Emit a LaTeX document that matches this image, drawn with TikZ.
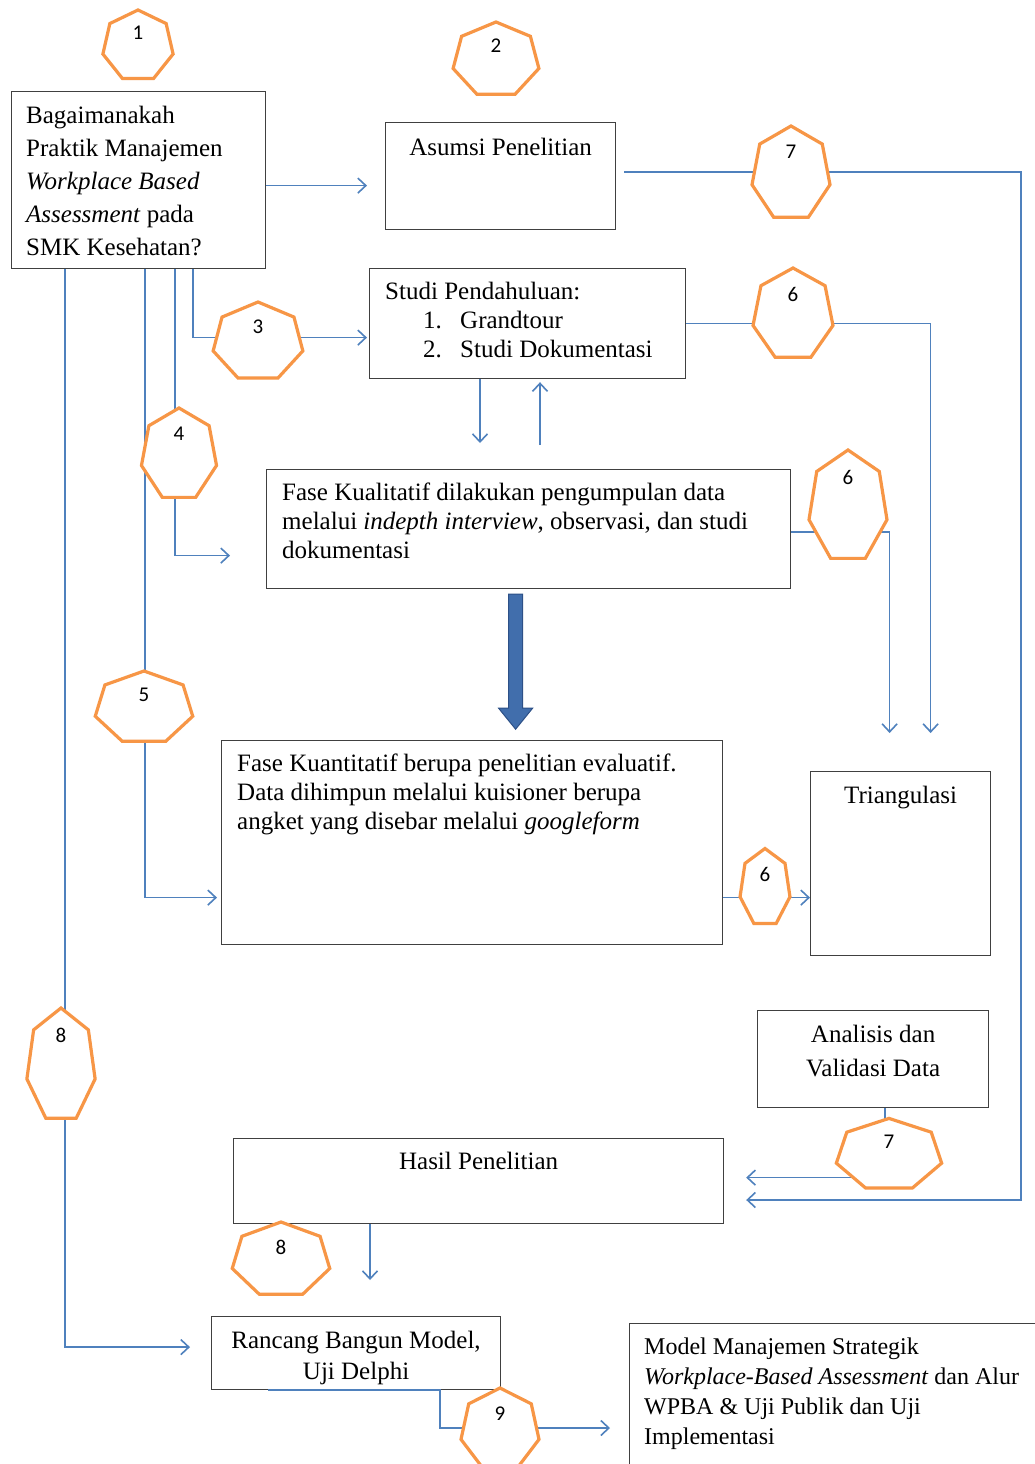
\documentclass[tikz,border=0pt]{standalone}
\usepackage{fontspec}
\setmainfont{Liberation Serif}
\newfontfamily\angkafont{Carlito}
\usetikzlibrary{positioning}
\usetikzlibrary{arrows.meta}
\definecolor{garis}{RGB}{79,129,189}
\definecolor{jingga}{RGB}{247,150,70}
\definecolor{kotak}{RGB}{64,64,64}
\definecolor{panahbiru}{RGB}{65,110,172}
\definecolor{panahtepi}{RGB}{45,80,135}
\newcommand{\heptcell}{\draw[hept] (-90:1) -- (-38.57:1) -- (12.86:1) -- (64.29:1) -- (115.71:1) -- (167.14:1) -- (218.57:1) -- cycle;}
\tikzset{
	kotakbox/.style={draw=kotak, line width=1.2pt, inner sep=0pt, anchor=north west},
	teks/.style={inner sep=0pt, align=left, font=\fontsize{25}{29}\selectfont},
	panah/.style={draw=garis, line width=1.6pt, -{Straight Barb[length=8pt,width=15pt]}},
	hept/.style={draw=jingga, line width=3.2pt, fill=white},
	hnum/.style={inner sep=0pt, font=\angkafont\fontsize{21}{21}\selectfont},
	fat/.style={fill=panahbiru, draw=panahtepi, line width=1pt}
}

\begin{document}
\begin{tikzpicture}[x=1pt, y=-1pt]

					\path[use as bounding box, fill=white] (0,0) rectangle (1035,1464);

					\node[kotakbox, minimum width=254pt, minimum height=177pt] (tanya) at (11,91) {};
					\node[kotakbox, minimum width=230pt, minimum height=107pt] (asumsi) at (385,122) {};
					\node[kotakbox, minimum width=316pt, minimum height=110pt] (studi) at (369,268) {};
					\node[kotakbox, minimum width=524pt, minimum height=119pt] (kuali) at (266,469) {};
					\node[kotakbox, minimum width=501pt, minimum height=204pt] (kuanti) at (221,740) {};
					\node[kotakbox, minimum width=180pt, minimum height=184pt] (triang) at (810,771) {};
					\node[kotakbox, minimum width=231pt, minimum height=97pt] (analisis) at (757,1010) {};
					\node[kotakbox, minimum width=490pt, minimum height=85pt] (hasil) at (233,1138) {};
					\node[kotakbox, minimum width=289pt, minimum height=73pt] (rancang) at (211,1316) {};
					\node[kotakbox, minimum width=420pt, minimum height=160pt] (model) at (629,1323) {};

					\node[teks, font=\fontsize{25}{33}\selectfont, below right=15pt and 15pt of tanya.north west] (tanya-t) {Bagaimanakah\\Praktik Manajemen\\\textit{Workplace Based}\\\textit{Assessment} pada\\SMK Kesehatan?};
					\node[teks, below=16pt of asumsi.north] (asumsi-t) {Asumsi Penelitian};
					\node[teks, below right=14pt and 16pt of studi.north west] (studi-t) {Studi Pendahuluan:\\\hspace*{38pt}\makebox[37pt][l]{1.}Grandtour\\\hspace*{38pt}\makebox[37pt][l]{2.}Studi Dokumentasi};
					\node[teks, below right=14pt and 16pt of kuali.north west] (kuali-t) {Fase Kualitatif dilakukan pengumpulan data\\melalui \textit{indepth interview}, observasi, dan studi\\dokumentasi};
					\node[teks, below right=14pt and 16pt of kuanti.north west] (kuanti-t) {Fase Kuantitatif berupa penelitian evaluatif.\\Data dihimpun melalui kuisioner berupa\\angket yang disebar melalui \textit{googleform}};
					\node[teks, below=15pt of triang.north] (triang-t) {Triangulasi};
					\node[teks, align=center, font=\fontsize{25}{34}\selectfont, below=15pt of analisis.north] (analisis-t) {Analisis dan\\Validasi Data};
					\node[teks, below=14pt of hasil.north] (hasil-t) {Hasil Penelitian};
					\node[teks, align=center, font=\fontsize{25}{31}\selectfont, below=15pt of rancang.north] (rancang-t) {Rancang Bangun Model,\\Uji Delphi};
					\node[teks, font=\fontsize{24}{30}\selectfont, below right=15pt and 15pt of model.north west] (model-t) {Model Manajemen Strategik\\\textit{Workplace-Based Assessment} dan Alur\\WPBA \& Uji Publik dan Uji\\Implementasi};

					\coordinate (pojok) at (1021,1200);

					\draw[panah, shorten >=18pt] ([yshift=-5.5]tanya.east) -- ([yshift=-5.5]tanya.east -| asumsi.west);
					\draw[panah, shorten >=2pt] ([xshift=182]tanya.south west) |- ([yshift=-14]studi.west);
					\draw[panah, shorten >=36pt] ([xshift=164]tanya.south west) |- ([yshift=-26.5]kuali.west);
					\draw[panah, shorten >=4pt] ([xshift=134]tanya.south west) |- ([yshift=-55]kuanti.west);
					\draw[panah, shorten >=21pt] ([xshift=54]tanya.south west) |- ([yshift=6]rancang.west);
					\draw[panah, shorten >=22pt] ([xshift=8,yshift=4]asumsi.east) -| (pojok) -- (pojok -| hasil.east);
					\draw[panah, shorten >=38pt] (studi.east) -| ([xshift=30]triang.north);
					\draw[panah, shorten >=38pt] ([yshift=-3]kuali.east) -| ([xshift=-11]triang.north);
					\draw[panah] ([yshift=-55]kuanti.east) -- ([yshift=-55]kuanti.east -| triang.west);
					\draw[panah, shorten >=26pt] ([xshift=111]studi.south west) -- ([xshift=111]studi.south west |- kuali.north);
					\draw[panah, shorten <=24pt, shorten >=3pt] ([xshift=274]kuali.north west) -- ([xshift=274]kuali.north west |- studi.south);
					\draw[panah, shorten >=36pt] ([xshift=137]hasil.south west) -- ([xshift=137]hasil.south west |- rancang.north);
					\draw[panah, shorten >=22pt] ([xshift=128]analisis.south west) |- ([yshift=3.5]hasil.east);
					\draw[panah, shorten >=19pt] ([xshift=57]rancang.south west) -- ([xshift=229]rancang.south west) |- ([yshift=-105]model.north west);

					\draw[fat] ([xshift=-20,yshift=-5]kuali.south) -- ++(14,0) -- ++(0,114) -- ++(10,0) -- ++(-17,21) -- ++(-17,-21) -- ++(10,0) -- cycle;

					\begin{scope}[shift={(138,46)}, xscale=36, yscale=36]
						\heptcell
					\end{scope}
					\node[hnum] (n1) at (138,33) {1};

					\begin{scope}[shift={(496,60)}, xscale=44, yscale=38]
						\heptcell
					\end{scope}
					\node[hnum] (n2) at (496,46) {2};

					\begin{scope}[shift={(791,174)}, xscale=40, yscale=48]
						\heptcell
					\end{scope}
					\node[hnum] (n7a) at (791,152) {7};

					\begin{scope}[shift={(793,315)}, xscale=41, yscale=47]
						\heptcell
					\end{scope}
					\node[hnum] (n6a) at (793,294) {6};

					\begin{scope}[shift={(258,342)}, xscale=46, yscale=40]
						\heptcell
					\end{scope}
					\node[hnum] (n3) at (258,327) {3};

					\begin{scope}[shift={(179,455)}, xscale=38.5, yscale=47]
						\heptcell
					\end{scope}
					\node[hnum] (n4) at (179,434) {4};

					\begin{scope}[shift={(848,507)}, xscale=40, yscale=57]
						\heptcell
					\end{scope}
					\node[hnum] (n6b) at (848,477) {6};

					\begin{scope}[shift={(144,708)}, xscale=50, yscale=37]
						\heptcell
					\end{scope}
					\node[hnum] (n5) at (144,695) {5};

					\begin{scope}[shift={(765,888)}, xscale=25.6, yscale=39.5]
						\heptcell
					\end{scope}
					\node[hnum] (n6c) at (765,874) {6};

					\begin{scope}[shift={(61,1066)}, xscale=35, yscale=58]
						\heptcell
					\end{scope}
					\node[hnum] (n8a) at (61,1035) {8};

					\begin{scope}[shift={(889,1155)}, xscale=54, yscale=36.6]
						\heptcell
					\end{scope}
					\node[hnum] (n7b) at (889,1142) {7};

					\begin{scope}[shift={(281,1260)}, xscale=50, yscale=38]
						\heptcell
					\end{scope}
					\node[hnum] (n8b) at (281,1247) {8};

					\begin{scope}[shift={(500,1430)}, xscale=40, yscale=42]
						\heptcell
					\end{scope}
					\node[hnum] (n9) at (500,1414) {9};

				\end{tikzpicture}
\end{document}
